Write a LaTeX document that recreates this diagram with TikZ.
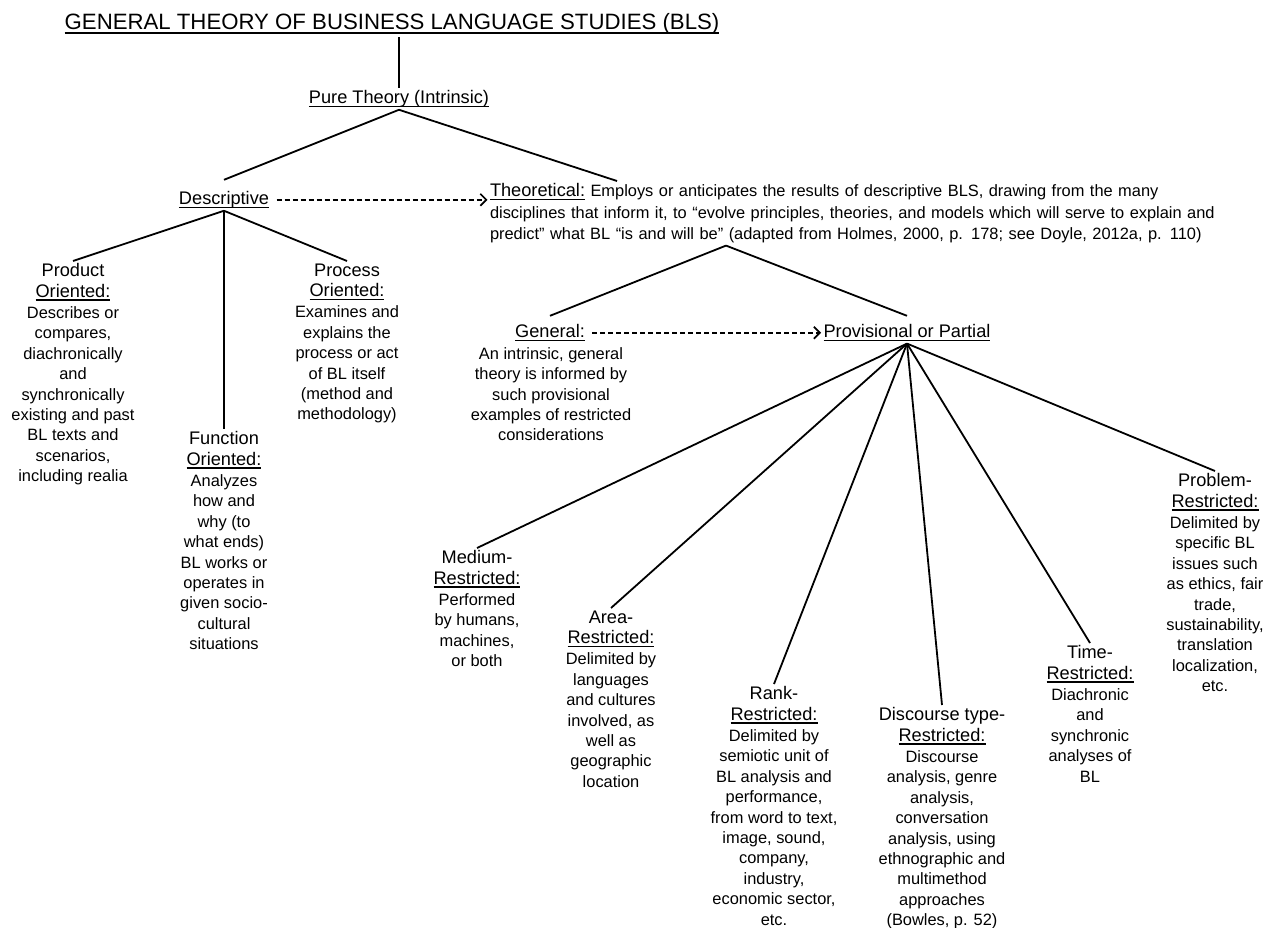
\documentclass[tikz,border=0pt]{standalone}
\usepackage{fontspec}
\setmainfont{Liberation Sans}
\usepackage{tikz}
\usetikzlibrary{arrows.meta}
\newcommand{\headf}{\fontsize{18.2}{20.4}\selectfont}
\newcommand{\bodyf}{\fontsize{16.4}{20.4}\selectfont}
\newcommand{\undl}[2][1.2pt]{\leavevmode\setbox0=\hbox{#2}\rlap{\rule[-\dimexpr 2.4pt+#1\relax]{\wd0}{#1}}\box0}

\begin{document}
\begin{tikzpicture}[x=1pt,y=1pt,
  branch/.style={line width=1.8pt},
  leadsto/.style={line width=1.7pt,dash pattern=on 5pt off 3pt,shorten <=5pt,-{Straight Barb[length=6pt,width=12pt]}},
  leaf/.style={anchor=north,align=center,font=\bodyf},
  head/.style={anchor=base,font=\headf}]
\tikzstyle{every node}+=[inner sep=2.5pt,outer sep=0pt]
\useasboundingbox (0,0) rectangle (1266,-928);
\node [anchor=base] (bls) at (392,-30) {\fontsize{22.2}{26}\selectfont\undl[1.8pt]{GENERAL THEORY OF BUSINESS LANGUAGE STUDIES (BLS)}};
\node [head] (pure) at (399,-103.5) {\undl{Pure Theory (Intrinsic)}};
\node [head] (desc) at (224,-204.5) {\undl{Descriptive}};
\node [anchor=north west,align=left,text width=730pt,font=\fontsize{16.4}{21.5}\selectfont] (theo) at (487.5,-181) {{\headf\undl{Theoretical:}} Employs or anticipates the results of descriptive BLS, drawing from the many\\disciplines that inform it, to “evolve principles, theories, and models which will serve to explain and\\predict” what BL “is and will be” (adapted from Holmes, 2000, p. 178; see Doyle, 2012a, p. 110)};
\coordinate (theotop) at ([xshift=129.5pt]theo.north west);
\coordinate (theobot) at ([xshift=238.5pt]theo.south west);
\node [leaf] (product) at (73,-261) {{\headf Product}\\{\headf\undl{Oriented:}}\\[1pt]Describes or\\compares,\\diachronically\\and\\synchronically\\existing and past\\BL texts and\\scenarios,\\including realia};
\node [leaf] (function) at (224,-429) {{\headf Function}\\{\headf\undl{Oriented:}}\\[1pt]Analyzes\\how and\\why (to\\what ends)\\BL works or\\operates in\\given socio-\\cultural\\situations};
\node [leaf] (process) at (347,-261) {{\headf Process}\\{\headf\undl{Oriented:}}\\[1pt]Examines and\\explains the\\process or act\\of BL itself\\(method and\\methodology)};
\node [head] (gen) at (550,-337.5) {\undl{General:}};
\node [leaf] (genbody) at (551,-345) {An intrinsic, general\\theory is informed by\\such provisional\\examples of restricted\\considerations};
\node [head] (prov) at (907,-337.5) {\undl{Provisional or Partial}};
\node [leaf] (medium) at (477,-548) {{\headf Medium-}\\{\headf\undl{Restricted:}}\\[1pt]Performed\\by humans,\\machines,\\or both};
\node [leaf] (area) at (611,-608) {{\headf Area-}\\{\headf\undl{Restricted:}}\\[1pt]Delimited by\\languages\\and cultures\\involved, as\\well as\\geographic\\location};
\node [leaf] (rank) at (774,-684) {{\headf Rank-}\\{\headf\undl{Restricted:}}\\[1pt]Delimited by\\semiotic unit of\\BL analysis and\\performance,\\from word to text,\\image, sound,\\company,\\industry,\\economic sector,\\etc.};
\node [leaf] (discourse) at (942,-705) {{\headf Discourse type-}\\{\headf\undl{Restricted:}}\\[1pt]Discourse\\analysis, genre\\analysis,\\conversation\\analysis, using\\ethnographic and\\multimethod\\approaches\\(Bowles, p. 52)};
\node [leaf] (time) at (1090,-643) {{\headf Time-}\\{\headf\undl{Restricted:}}\\[1pt]Diachronic\\and\\synchronic\\analyses of\\BL};
\node [leaf] (problem) at (1215,-471) {{\headf Problem-}\\{\headf\undl{Restricted:}}\\[1pt]Delimited by\\specific BL\\issues such\\as ethics, fair\\trade,\\sustainability,\\translation\\localization,\\etc.};
\draw [branch] (bls.south -| pure.north) -- (pure.north);
\draw [branch] (pure.south) -- ([yshift=9pt]desc.north);
\draw [branch] (pure.south) -- (theotop);
\draw [branch] (desc.south) -- (product.north);
\draw [branch] (desc.south) -- (function.north);
\draw [branch] (desc.south) -- (process.north);
\draw [leadsto] (desc.east) -- (desc.east -| theo.west);
\draw [branch] (theobot) -- ([yshift=6pt]gen.north);
\draw [branch] (theobot) -- ([yshift=6pt]prov.north);
\draw [leadsto] (gen.east) -- (prov.west);
\draw [branch] (prov.south) -- (medium.north);
\draw [branch] (prov.south) -- (area.north);
\draw [branch] (prov.south) -- (rank.north);
\draw [branch] (prov.south) -- (discourse.north);
\draw [branch] (prov.south) -- (time.north);
\draw [branch] (prov.south) -- (problem.north);
\end{tikzpicture}
\end{document}
